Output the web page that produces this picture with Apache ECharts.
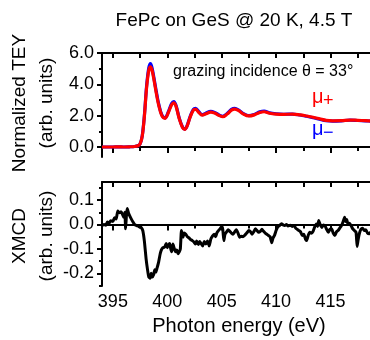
<!DOCTYPE html>
<html>
<head>
<meta charset="utf-8">
<script src="https://cdn.jsdelivr.net/npm/echarts@6/dist/echarts.min.js"></script>
<style>html,body{margin:0;padding:0;background:#fff}#c{width:370px;height:340px}</style>
</head>
<body>
<div id="c"></div>
<script>
// ---- data ----
const teyEnergy = [394.0,394.5,395.0,395.5,396.0,396.5,397.0,397.3,397.5,397.7,397.9,398.1,398.3,398.45,398.6,398.8,399.0,399.2,399.5,399.8,400.1,400.4,400.6,400.8,401.1,401.4,401.6,401.8,402.1,402.4,402.6,402.9,403.2,403.5,404.0,404.4,404.8,405.1,405.5,405.9,406.2,406.6,407.0,407.5,408.0,408.5,408.9,409.4,410.0,410.7,411.5,412.2,412.8,413.4,414.0,414.6,415.2,416.0,416.8,417.5,418.2,419.0];
const muPlus  = [0.0,0.0,0.0,0.01,0.0,0.01,0.03,0.08,0.2,0.7,2.0,3.8,4.9,5.12,4.9,4.2,3.4,2.7,2.0,1.83,2.2,2.7,2.82,2.6,1.8,1.25,1.13,1.3,1.9,2.35,2.4,2.2,2.03,2.1,2.23,2.15,2.0,1.93,2.1,2.35,2.42,2.3,2.1,1.98,2.05,2.2,2.25,2.15,2.1,2.08,2.1,2.05,1.98,1.9,1.8,1.7,1.67,1.68,1.72,1.7,1.68,1.65];
const muMinus = [0.0,0.0,0.0,0.01,0.0,0.01,0.03,0.08,0.2,0.72,2.05,3.9,5.05,5.32,5.05,4.3,3.5,2.78,2.05,1.86,2.25,2.78,2.9,2.66,1.84,1.27,1.14,1.32,1.94,2.4,2.46,2.25,2.06,2.14,2.28,2.19,2.03,1.96,2.14,2.4,2.47,2.34,2.13,2.0,2.08,2.24,2.29,2.18,2.12,2.09,2.1,2.04,1.96,1.87,1.77,1.68,1.65,1.67,1.71,1.69,1.67,1.64];

const xmcdEnergy = [394.0,394.2,394.35,394.5,394.65,394.8,395.0,395.15,395.3,395.45,395.6,395.75,395.9,396.0,396.1,396.17,396.25,396.32,396.45,396.55,396.7,396.85,397.0,397.15,397.3,397.45,397.6,397.75,397.9,398.05,398.2,398.3,398.42,398.52,398.62,398.75,398.85,398.95,399.05,399.2,399.35,399.45,399.6,399.75,399.9,400.0,400.1,400.22,400.32,400.4,400.52,400.62,400.75,400.88,400.98,401.1,401.2,401.3,401.38,401.45,401.55,401.7,401.85,402.0,402.15,402.3,402.45,402.6,402.7,402.85,402.98,403.1,403.25,403.4,403.55,403.7,403.85,404.0,404.15,404.3,404.45,404.55,404.7,404.85,405.0,405.1,405.2,405.3,405.45,405.6,405.75,405.9,406.05,406.2,406.35,406.5,406.65,406.8,406.95,407.1,407.3,407.5,407.65,407.8,407.95,408.1,408.25,408.4,408.55,408.7,408.85,409.0,409.15,409.3,409.45,409.6,409.72,409.85,410.0,410.15,410.3,410.5,410.65,410.8,410.95,411.1,411.3,411.5,411.65,411.8,411.95,412.1,412.25,412.4,412.55,412.7,412.8,412.95,413.1,413.25,413.4,413.55,413.7,413.82,413.92,414.05,414.2,414.35,414.5,414.65,414.8,414.95,415.1,415.25,415.4,415.55,415.7,415.85,416.0,416.15,416.3,416.4,416.5,416.6,416.75,416.9,417.05,417.2,417.35,417.45,417.55,417.65,417.8,417.95,418.1,418.25,418.4,418.55,418.7,418.85,419.0];
const xmcd = [-0.005,0.0,-0.003,0.010,0.005,0.015,0.012,0.028,0.022,0.055,0.048,0.052,0.040,0.030,0.050,-0.018,0.040,0.065,0.045,0.035,0.022,0.010,0.000,-0.004,-0.006,-0.010,-0.012,-0.025,-0.070,-0.140,-0.190,-0.215,-0.220,-0.200,-0.215,-0.205,-0.185,-0.195,-0.180,-0.155,-0.120,-0.105,-0.095,-0.093,-0.078,-0.095,-0.085,-0.078,-0.100,-0.112,-0.080,-0.095,-0.112,-0.105,-0.120,-0.112,-0.100,-0.025,-0.040,-0.052,-0.035,-0.040,-0.050,-0.055,-0.062,-0.066,-0.072,-0.080,-0.068,-0.082,-0.070,-0.078,-0.088,-0.070,-0.080,-0.068,-0.088,-0.060,-0.048,-0.040,-0.050,-0.035,-0.025,-0.018,-0.008,-0.020,-0.066,-0.040,-0.030,-0.022,-0.028,-0.035,-0.040,-0.030,-0.022,-0.035,-0.052,-0.048,-0.050,-0.045,-0.035,-0.025,-0.030,-0.040,-0.030,-0.018,-0.025,-0.032,-0.028,-0.020,-0.028,-0.035,-0.040,-0.045,-0.050,-0.075,-0.055,-0.045,-0.025,-0.010,-0.005,0.003,-0.002,-0.004,0.000,-0.006,-0.003,-0.008,-0.004,-0.015,-0.020,-0.025,-0.030,-0.045,-0.040,-0.060,-0.066,-0.045,-0.032,-0.036,-0.028,-0.010,0.002,-0.008,0.016,0.000,-0.012,-0.002,-0.006,-0.020,-0.032,-0.020,-0.018,-0.035,-0.045,-0.030,-0.025,-0.015,-0.005,0.010,0.030,0.012,0.020,0.002,0.005,-0.005,-0.018,-0.025,-0.032,-0.090,-0.060,-0.038,-0.020,-0.015,-0.025,-0.022,-0.035,-0.038,-0.032,-0.028,-0.030];

const xMajor = [395,400,405,410,415];
const xMinor = [397.5,402.5,407.5,412.5,417.5];
const teyMajor = [0,2,4,6];
const teyMinor = [1,3,5];
const xmcdMajor = [-0.2,-0.1,0,0.1];
const xmcdMinor = [-0.25,-0.15,-0.05,0.05,0.15];

const title = 'FePc on GeS @ 20 K, 4.5 T';
const xName = 'Photon energy (eV)';
const teyName = 'Normalized TEY\n(arb. units)';
const xmcdName = 'XMCD\n(arb. units)';
const note = 'grazing incidence θ = 33°';

// ---- chart ----
const FONT = 'Liberation Sans, Arial, Helvetica, sans-serif';
const black = '#000';
const chart = echarts.init(document.getElementById('c'), null, {renderer: 'canvas'});

function pairs(xs, ys) { return xs.map((x, i) => [x, ys[i]]); }

const X_MIN = 394, X_MAX = 419;
const line = {show: true, lineStyle: {color: black, width: 2}};

function xAxes(grid, showLabels) {
  return [
    {type: 'value', gridIndex: grid, position: 'bottom', min: X_MIN, max: X_MAX,
     axisLine: line, splitLine: {show: false},
     axisTick: {show: true, inside: false, length: 6, lineStyle: {color: black, width: 2}, customValues: xMajor},
     axisLabel: {show: showLabels, customValues: xMajor, margin: 7, color: black, fontSize: 18, fontFamily: FONT}},
    {type: 'value', gridIndex: grid, position: 'bottom', min: X_MIN, max: X_MAX,
     axisLine: {show: false}, splitLine: {show: false},
     axisTick: {show: true, inside: false, length: 4, lineStyle: {color: black, width: 2}, customValues: xMinor},
     axisLabel: {show: false}},
    {type: 'value', gridIndex: grid, position: 'top', min: X_MIN, max: X_MAX,
     axisLine: line, splitLine: {show: false},
     axisTick: {show: true, inside: true, length: 5, lineStyle: {color: black, width: 2}, customValues: xMajor.concat(xMinor)},
     axisLabel: {show: false}}
  ];
}
function yAxes(grid, mn, mx, major, minor) {
  return [
    {type: 'value', gridIndex: grid, position: 'left', min: mn, max: mx,
     axisLine: line, splitLine: {show: false},
     axisTick: {show: true, inside: false, length: 5, lineStyle: {color: black, width: 2}, customValues: major},
     axisLabel: {show: true, customValues: major, margin: 8, color: black, fontSize: 18, fontFamily: FONT,
                 formatter: v => Number(v).toFixed(1)}},
    {type: 'value', gridIndex: grid, position: 'left', min: mn, max: mx,
     axisLine: {show: false}, splitLine: {show: false},
     axisTick: {show: true, inside: false, length: 3, lineStyle: {color: black, width: 2}, customValues: minor},
     axisLabel: {show: false}}
  ];
}

const option = {
  animation: false,
  backgroundColor: '#fff',
  grid: [
    {left: 102, top: 53, width: 272, height: 104, outerBoundsMode: 'none', containLabel: false},
    {left: 102, top: 182, width: 272, height: 104, outerBoundsMode: 'none', containLabel: false}
  ],
  xAxis: xAxes(0, false).concat(xAxes(1, true)),
  yAxis: yAxes(0, -0.64, 6.0, teyMajor, teyMinor).concat(yAxes(1, -0.252, 0.174, xmcdMajor, xmcdMinor)),
  series: [
    {type: 'line', name: 'mu-', xAxisIndex: 0, yAxisIndex: 0, data: pairs(teyEnergy, muMinus),
     showSymbol: false, smooth: 0.35, lineStyle: {color: '#0000ff', width: 3.2}, z: 2},
    {type: 'line', name: 'mu+', xAxisIndex: 0, yAxisIndex: 0, data: pairs(teyEnergy, muPlus),
     showSymbol: false, smooth: 0.35, lineStyle: {color: '#ff0000', width: 3.2}, z: 3},
    {type: 'line', name: 'XMCD', xAxisIndex: 3, yAxisIndex: 2, data: pairs(xmcdEnergy, xmcd),
     showSymbol: false, smooth: 0.15, lineStyle: {color: black, width: 3}, z: 3}
  ],
  graphic: [
    {type: 'text', x: 234, y: 21, style: {text: title, fontSize: 19, fontFamily: FONT, fill: black, align: 'center', verticalAlign: 'middle'}},
    {type: 'text', x: 239, y: 326, style: {text: xName, fontSize: 20, fontFamily: FONT, fill: black, align: 'center', verticalAlign: 'middle'}},
    {type: 'text', x: 33, y: 103, rotation: Math.PI / 2, style: {text: teyName, fontSize: 19, lineHeight: 27, fontFamily: FONT, fill: black, align: 'center', verticalAlign: 'middle'}},
    {type: 'text', x: 33, y: 236, rotation: Math.PI / 2, style: {text: xmcdName, fontSize: 19, lineHeight: 27, fontFamily: FONT, fill: black, align: 'center', verticalAlign: 'middle'}},
    {type: 'text', x: 173, y: 72, style: {text: note, fontSize: 16, fontFamily: FONT, fill: black, align: 'left', verticalAlign: 'middle'}},
    {type: 'text', x: 312, y: 97, style: {text: 'μ', fontSize: 20, fontFamily: FONT, fill: '#ff0000', align: 'left', verticalAlign: 'middle'}},
    {type: 'text', x: 323, y: 101, style: {text: '+', fontSize: 18, fontFamily: FONT, fill: '#ff0000', align: 'left', verticalAlign: 'middle'}},
    {type: 'text', x: 312, y: 129, style: {text: 'μ', fontSize: 20, fontFamily: FONT, fill: '#0000ff', align: 'left', verticalAlign: 'middle'}},
    {type: 'text', x: 323, y: 133, style: {text: '−', fontSize: 18, fontFamily: FONT, fill: '#0000ff', align: 'left', verticalAlign: 'middle'}}
  ]
};
chart.setOption(option);
</script>
</body>
</html>
